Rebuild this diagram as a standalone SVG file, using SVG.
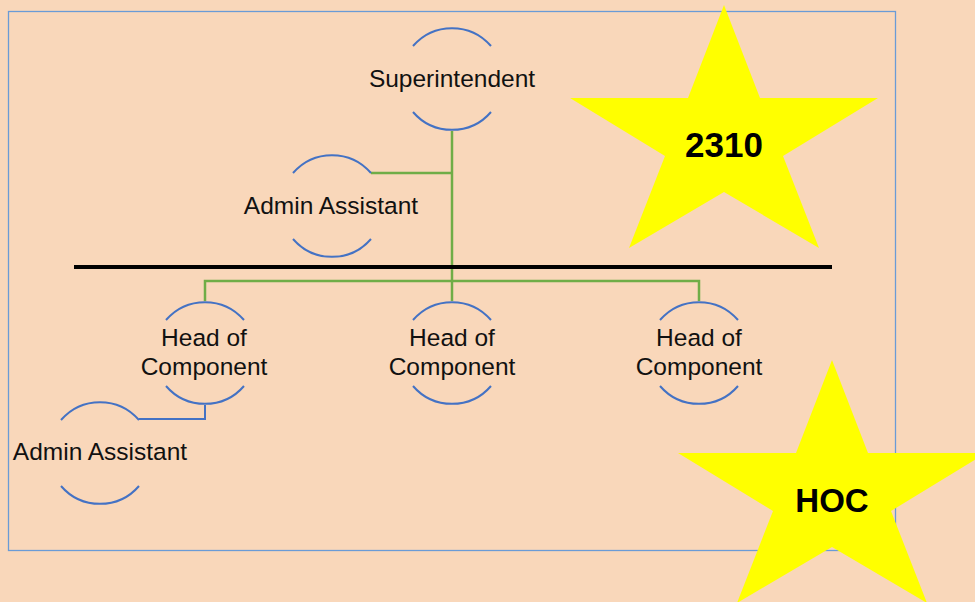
<svg xmlns="http://www.w3.org/2000/svg" width="975" height="602" viewBox="0 0 975 602">
<style>
.arc{fill:none;stroke:#4472C4;stroke-width:2}
.lbl{font-family:"Liberation Sans",Arial,sans-serif;font-size:24.5px;fill:#111;text-anchor:middle}
.star{fill:#FFFF00;stroke:none}
.big{font-family:"Liberation Sans",Arial,sans-serif;font-weight:bold;fill:#000;text-anchor:middle}
.g{fill:none;stroke:#70AD47;stroke-width:2.5}
.b{fill:none;stroke:#4472C4;stroke-width:2}
</style>
<rect x="0" y="0" width="975" height="602" fill="#F9D7BA"/>
<rect x="8.5" y="11.5" width="887" height="539" fill="none" stroke="#6A9BD6" stroke-width="1.3"/>
<g id="connectors">
<path class="g" d="M452 131 V301"/>
<path class="g" d="M371 173 H452"/>
<path class="g" d="M205 301 V281 H699 V301"/>
<path class="b" d="M205 405 V419 H139"/>
<path d="M74 267 H832" stroke="#000" stroke-width="4"/>
</g>
<g id="superintendent">
<path class="arc" d="M413 46 A51.5 51.5 0 0 1 491 46"/>
<path class="arc" d="M413 112 A51.5 51.5 0 0 0 491 112"/>
<text class="lbl" x="452" y="87">Superintendent</text>
</g>
<g id="admin1">
<path class="arc" d="M293 173 A51.5 51.5 0 0 1 371 173"/>
<path class="arc" d="M293 239 A51.5 51.5 0 0 0 371 239"/>
<text class="lbl" x="331" y="214">Admin Assistant</text>
</g>
<g id="hoc1">
<path class="arc" d="M166 320 A51.5 51.5 0 0 1 244 320"/>
<path class="arc" d="M166 386 A51.5 51.5 0 0 0 244 386"/>
<text class="lbl" x="204" y="346">Head of</text>
<text class="lbl" x="204" y="375">Component</text>
</g>
<g id="hoc2">
<path class="arc" d="M413 320 A51.5 51.5 0 0 1 491 320"/>
<path class="arc" d="M413 386 A51.5 51.5 0 0 0 491 386"/>
<text class="lbl" x="452" y="346">Head of</text>
<text class="lbl" x="452" y="375">Component</text>
</g>
<g id="hoc3">
<path class="arc" d="M660 320 A51.5 51.5 0 0 1 738 320"/>
<path class="arc" d="M660 386 A51.5 51.5 0 0 0 738 386"/>
<text class="lbl" x="699" y="346">Head of</text>
<text class="lbl" x="699" y="375">Component</text>
</g>
<g id="admin2">
<path class="arc" d="M61 420 A51.5 51.5 0 0 1 139 420"/>
<path class="arc" d="M61 486 A51.5 51.5 0 0 0 139 486"/>
<text class="lbl" x="100" y="460">Admin Assistant</text>
</g>
<g id="star2310">
<polygon class="star" points="724,5 760,98 878,98 783,156 819,248 724,192 629,248 665,156 570,98 688,98"/>
<text class="big" x="724" y="157" font-size="35">2310</text>
</g>
<g id="starHOC">
<polygon class="star" points="832,360 868,453 986,453 891,511 927,603 832,547 737,603 773,511 678,453 796,453"/>
<text class="big" x="832" y="512" font-size="33">HOC</text>
</g>
</svg>
